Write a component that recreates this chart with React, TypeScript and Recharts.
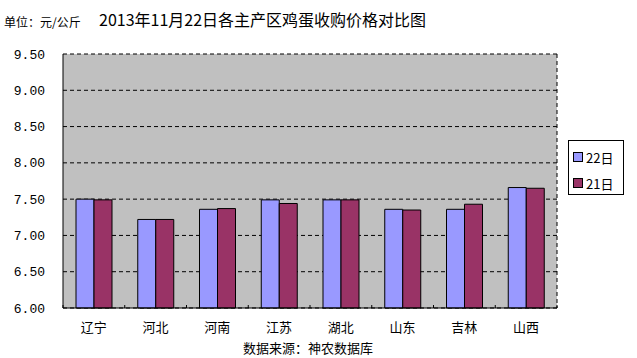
import React from 'react';
import { BarChart, Bar, XAxis, YAxis, CartesianGrid, Legend } from 'recharts';

const provinces = ['辽宁', '河北', '河南', '江苏', '湖北', '山东', '吉林', '山西'];
const price22 = [7.50, 7.22, 7.36, 7.49, 7.49, 7.36, 7.36, 7.66];
const price21 = [7.49, 7.22, 7.37, 7.44, 7.49, 7.35, 7.43, 7.65];
const yTicks = [6.0, 6.5, 7.0, 7.5, 8.0, 8.5, 9.0, 9.5];

const data = provinces.map((name, i) => ({ name, d22: price22[i], d21: price21[i] }));

const CJK = '"Noto Sans CJK SC", sans-serif';

// category label plus small tick marks on the band edges
const CategoryTick = (props: any) => {
  const { x, y, payload, index } = props;
  const half = payload.offset || 0;
  return (
    <g>
      {index === 0 && <line x1={x - half} x2={x - half} y1={y - 3} y2={y} stroke="#000" />}
      <line x1={x + half} x2={x + half} y1={y - 3} y2={y} stroke="#000" />
      <text x={x} y={y + 24} textAnchor="middle" fontSize={13} fontFamily={CJK} fill="#000">
        {payload.value}
      </text>
    </g>
  );
};

const LegendBox = () => (
  <div style={{ width: 54, height: 53, border: '1px solid #000', background: '#fff', fontFamily: CJK, fontSize: 13 }}>
    {[
      { label: '22日', color: '#9999FF' },
      { label: '21日', color: '#993366' },
    ].map((item, i) => (
      <div key={i} style={{ display: 'flex', alignItems: 'center', marginLeft: 4, marginTop: i === 0 ? 7 : 8, height: 18 }}>
        <span style={{ width: 8, height: 8, background: item.color, border: '1px solid #000', marginRight: 3 }} />
        <span>{item.label}</span>
      </div>
    ))}
  </div>
);

export default function App() {
  return (
    <div style={{ position: 'absolute', left: 0, top: 0, width: 637, height: 358, background: '#fff' }}>
      <div style={{ position: 'absolute', left: 4, top: 13, fontSize: 12, fontFamily: CJK }}>单位：元/公斤</div>
      <div style={{ position: 'absolute', left: 99, top: 7, fontSize: 16, fontFamily: CJK }}>
        2013年11月22日各主产区鸡蛋收购价格对比图
      </div>
      <div style={{ position: 'absolute', left: 243, top: 338, fontSize: 13, fontFamily: CJK }}>数据来源：神农数据库</div>
      <BarChart
        width={637}
        height={358}
        data={data}
        margin={{ top: 54, right: 80, left: 13, bottom: 20 }}
        barGap={0}
        barSize={18}
      >
        <CartesianGrid
          fill="#C0C0C0"
          stroke="#000"
          strokeDasharray="4 3"
          verticalCoordinatesGenerator={({ offset }: any) => [offset.left + offset.width]}
        />
        <XAxis
          dataKey="name"
          height={30}
          axisLine={{ stroke: '#000' }}
          tickLine={false}
          tickSize={0}
          tickMargin={0}
          tick={<CategoryTick />}
          interval={0}
        />
        <YAxis
          width={50}
          domain={[6, 9.5]}
          ticks={yTicks}
          interval={0}
          axisLine={{ stroke: '#000' }}
          tickLine={false}
          tickSize={0}
          tickMargin={18}
          tickFormatter={(v: number) => v.toFixed(2)}
          tick={{ fontSize: 13, fontFamily: '"Liberation Mono", monospace', fill: '#000' }}
        />
        <Legend
          layout="vertical"
          align="center"
          verticalAlign="middle"
          content={<LegendBox />}
          wrapperStyle={{ left: 568, top: 140, width: 56, height: 55 }}
        />
        <Bar dataKey="d22" name="22日" fill="#9999FF" stroke="#000" strokeWidth={1} isAnimationActive={false} />
        <Bar dataKey="d21" name="21日" fill="#993366" stroke="#000" strokeWidth={1} isAnimationActive={false} />
      </BarChart>
    </div>
  );
}
